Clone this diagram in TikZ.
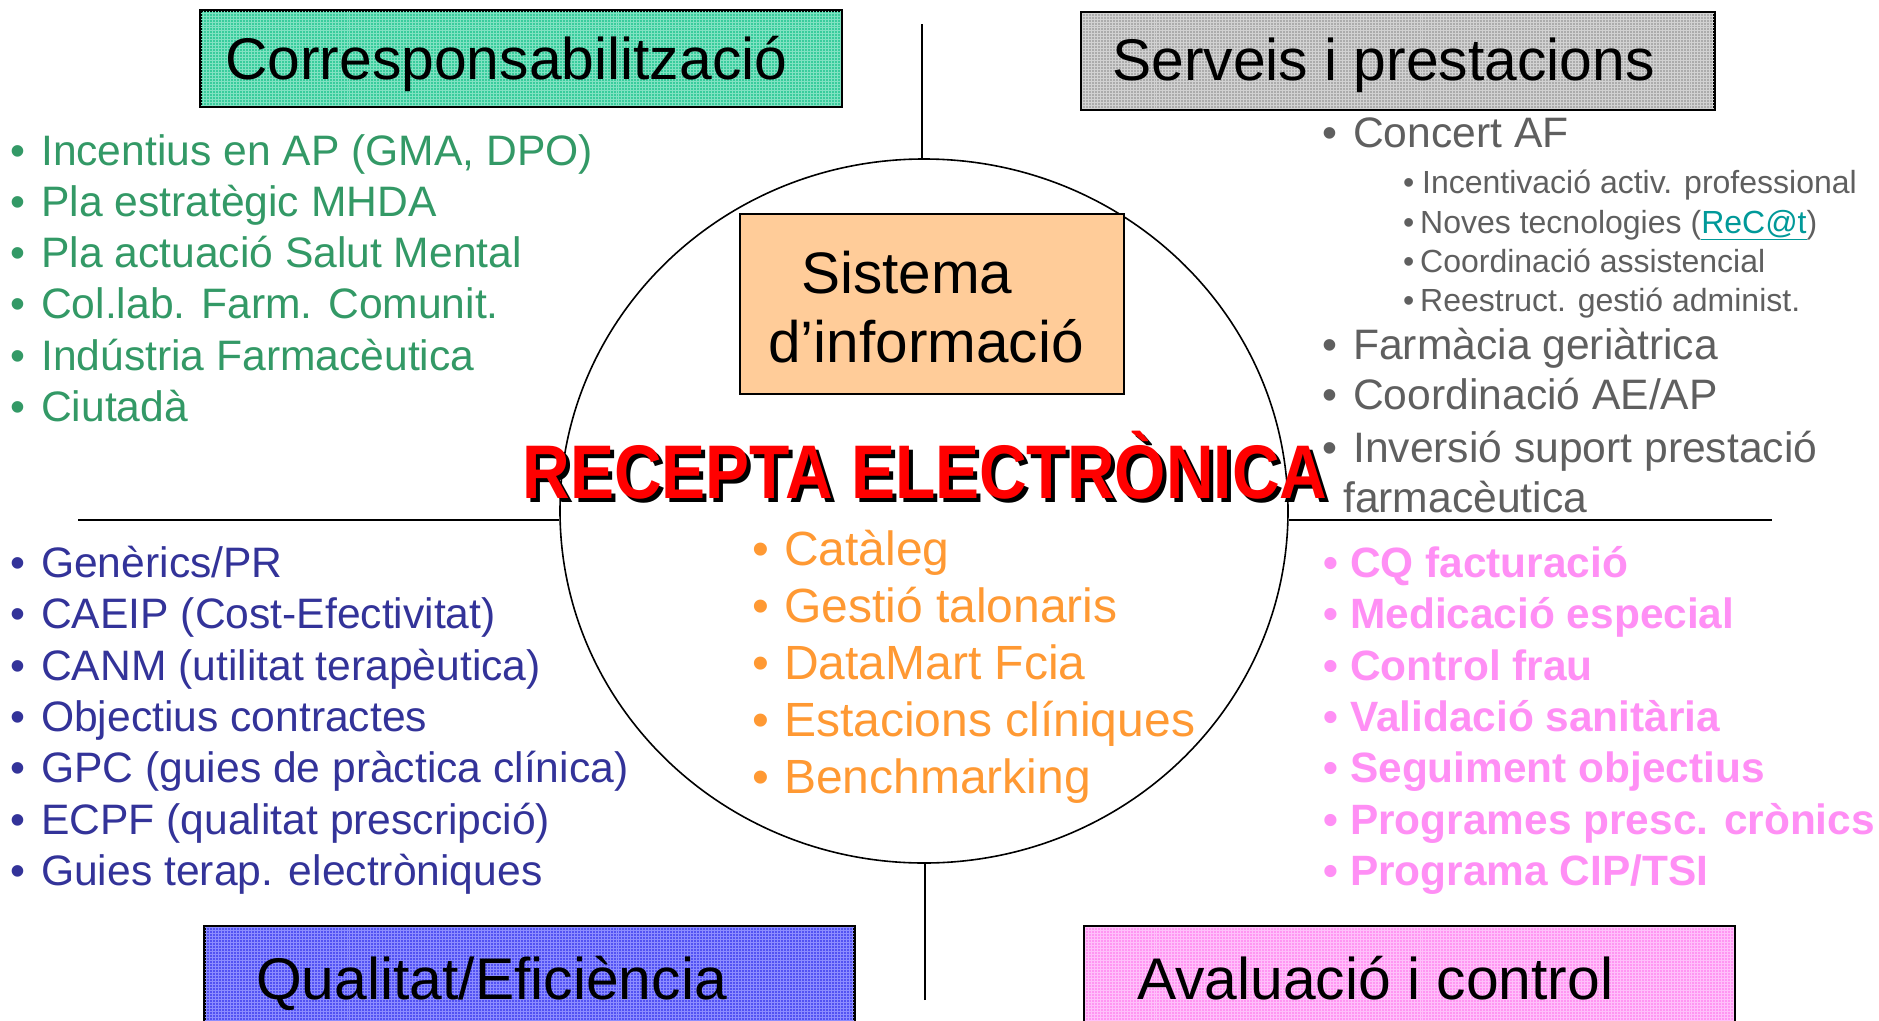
\documentclass[tikz,border=0pt]{standalone}
\usepackage{fontspec}
\setmainfont{Liberation Sans}
\usetikzlibrary{patterns,shapes.geometric}
\definecolor{cgreen}{HTML}{339966}
\definecolor{cblue}{HTML}{333399}
\definecolor{cgray}{HTML}{5F5F5F}
\definecolor{corange}{HTML}{FF9933}
\definecolor{cpink}{HTML}{FF8FF5}
\definecolor{clink}{HTML}{009999}
\definecolor{fteal}{HTML}{38CC9C}
\definecolor{gteal}{HTML}{80E2C2}
\definecolor{fgray}{HTML}{ACACAC}
\definecolor{ggray}{HTML}{D2D2D2}
\definecolor{fblue}{HTML}{5252F2}
\definecolor{gblue}{HTML}{8C8CFF}
\definecolor{fpink}{HTML}{FF96F2}
\definecolor{gpink}{HTML}{FFC0FA}
\definecolor{fpeach}{HTML}{FFCC99}
\newcommand\mybul[1]{\llap{\textbullet\hspace{#1}}}
\newcommand\rectitle{\scalebox{0.868}[1]{RECEPTA ELECTRÒNICA}}
\begin{document}
\begin{tikzpicture}[x=1bp,y=-1bp,
  ln/.style={line width=1.6bp, black},
  titlebox/.style={draw=black, line width=2bp, anchor=north west, inner sep=0pt},
  titletext/.style={anchor=base west, inner sep=0pt, font=\fontsize{58.8bp}{70bp}\selectfont},
  item/.style={anchor=base west, inner sep=0pt, font=\fontsize{42.6bp}{50bp}\selectfont},
  subitem/.style={anchor=base west, inner sep=0pt, font=\fontsize{32bp}{38bp}\selectfont, text=cgray},
  oitem/.style={anchor=base west, inner sep=0pt, font=\fontsize{48bp}{57bp}\selectfont, text=corange},
  pitem/.style={anchor=base west, inner sep=0pt, font=\fontsize{42.4bp}{50bp}\selectfont\bfseries, text=cpink},
]
\useasboundingbox (0,0) rectangle (1879,1020);
\fill[white] (0,0) rectangle (1879,1020);

% circle and dividing lines
\node[ellipse, draw, line width=1.6bp, minimum width=728bp, minimum height=704bp, inner sep=0pt] (circ) at (924,511) {};
\coordinate (topend) at (922,24);
\coordinate (botend) at (925,1000);
\coordinate (leftend) at (78,520);
\coordinate (rightend) at (1772,520);
\draw[ln] (topend) -- (topend |- circ.north);
\draw[ln] (botend) -- (botend |- circ.south);
\draw[ln] (leftend) -- (circ.west |- leftend);
\draw[ln] (circ.east |- rightend) -- (rightend);

% title boxes
\node[titlebox, fill=fteal, minimum width=640bp, minimum height=95bp] (b1) at (200,10) {};
\fill[pattern=grid, pattern color=gteal] (b1.south west) rectangle (b1.north east);
\draw[line width=2bp] (b1.south west) rectangle (b1.north east);
\node[titlebox, fill=fgray, minimum width=632bp, minimum height=96bp] (b2) at (1081,12) {};
\fill[pattern=grid, pattern color=ggray] (b2.south west) rectangle (b2.north east);
\draw[line width=2bp] (b2.south west) rectangle (b2.north east);
\node[titlebox, fill=fblue, minimum width=649bp, minimum height=110bp] (b3) at (204,926) {};
\fill[pattern=grid, pattern color=gblue] (b3.south west) rectangle (b3.north east);
\draw[line width=2bp] (b3.south west) rectangle (b3.north east);
\node[titlebox, fill=fpink, minimum width=649bp, minimum height=110bp] (b4) at (1084,926) {};
\fill[pattern=grid, pattern color=gpink] (b4.south west) rectangle (b4.north east);
\draw[line width=2bp] (b4.south west) rectangle (b4.north east);

\node[titletext] (t1) at (225,79) {Corresponsabilització};
\node[titletext] (t2) at (1112,80) {Serveis i prestacions};
\node[titletext] (t3) at (256,999) {Qualitat/Eficiència};
\node[titletext] (t4) at (1137,999) {Avaluació i control};

% Sistema d'informació box
\node[draw=black, line width=1.6bp, fill=fpeach, anchor=north west, minimum width=384bp, minimum height=180bp, inner sep=0pt] (sis) at (739,213) {};
\node[anchor=base west, inner sep=0pt, font=\fontsize{58.5bp}{69bp}\selectfont] (sis1) at (801,293) {Sistema};
\node[anchor=base west, inner sep=0pt, font=\fontsize{58.5bp}{69bp}\selectfont] (sis2) at (768,362) {d’informació};

% green list
\node[item, text=cgreen] (g1) at (41,165) {\mybul{16bp}Incentius en AP (GMA, DPO)};
\node[item, text=cgreen] (g2) at (41,216) {\mybul{16bp}Pla estratègic MHDA};
\node[item, text=cgreen] (g3) at (41,267) {\mybul{16bp}Pla actuació Salut Mental};
\node[item, text=cgreen] (g4) at (41,318) {\mybul{16bp}Col.lab. Farm. Comunit.};
\node[item, text=cgreen] (g5) at (41,370) {\mybul{16bp}Indústria Farmacèutica};
\node[item, text=cgreen] (g6) at (41,421) {\mybul{16bp}Ciutadà};

% gray list
\node[item, text=cgray] (s1) at (1353,147) {\mybul{16bp}Concert AF};
\node[subitem] (s2) at (1422,193) {\mybul{8bp}Incentivació activ. professional};
\node[subitem] (s3) at (1420,233) {\mybul{6bp}Noves tecnologies ({\color{clink}\underline{ReC@t}})};
\node[subitem] (s4) at (1420,272) {\mybul{6bp}Coordinació assistencial};
\node[subitem] (s5) at (1420,311) {\mybul{6bp}Reestruct. gestió administ.};
\node[item, text=cgray] (s6) at (1353,359) {\mybul{16bp}Farmàcia geriàtrica};
\node[item, text=cgray] (s7) at (1353,409) {\mybul{16bp}Coordinació AE/AP};

\node[item, text=cgray] (s8) at (1353,462) {\mybul{16bp}Inversió suport prestació};
\node[item, text=cgray] (s9) at (1343,512) {farmacèutica};

% central title (red with black shadow)
\node[anchor=base, inner sep=0pt, font=\fontsize{76bp}{90bp}\selectfont\bfseries] (rec) at (925,498)
  {\rlap{\hspace{4bp}\raisebox{-4bp}{\color{black}\rectitle}}{\color{red}\rectitle}};

% blue list
\node[item, text=cblue] (q1) at (41,577) {\mybul{16bp}Genèrics/PR};
\node[item, text=cblue] (q2) at (41,628) {\mybul{16bp}CAEIP (Cost-Efectivitat)};
\node[item, text=cblue] (q3) at (41,680) {\mybul{16bp}CANM (utilitat terapèutica)};
\node[item, text=cblue] (q4) at (41,731) {\mybul{16bp}Objectius contractes};
\node[item, text=cblue] (q5) at (41,782) {\mybul{16bp}GPC (guies de pràctica clínica)};
\node[item, text=cblue] (q6) at (41,834) {\mybul{16bp}ECPF (qualitat prescripció)};
\node[item, text=cblue] (q7) at (41,885) {\mybul{16bp}Guies terap. electròniques};

% orange list
\node[oitem] (o1) at (784,565) {\mybul{15bp}Catàleg};
\node[oitem] (o2) at (784,622) {\mybul{15bp}Gestió talonaris};
\node[oitem] (o3) at (784,679) {\mybul{15bp}DataMart Fcia};
\node[oitem] (o4) at (784,736) {\mybul{15bp}Estacions clíniques};
\node[oitem] (o5) at (784,793) {\mybul{15bp}Benchmarking};

% pink list
\node[pitem] (p1) at (1350,577) {\mybul{12bp}CQ facturació};
\node[pitem] (p2) at (1350,628) {\mybul{12bp}Medicació especial};
\node[pitem] (p3) at (1350,680) {\mybul{12bp}Control frau};
\node[pitem] (p4) at (1350,731) {\mybul{12bp}Validació sanitària};
\node[pitem] (p5) at (1350,782) {\mybul{12bp}Seguiment objectius};
\node[pitem] (p6) at (1350,834) {\mybul{12bp}Programes presc. crònics};
\node[pitem] (p7) at (1350,885) {\mybul{12bp}Programa CIP/TSI};
\end{tikzpicture}
\end{document}
